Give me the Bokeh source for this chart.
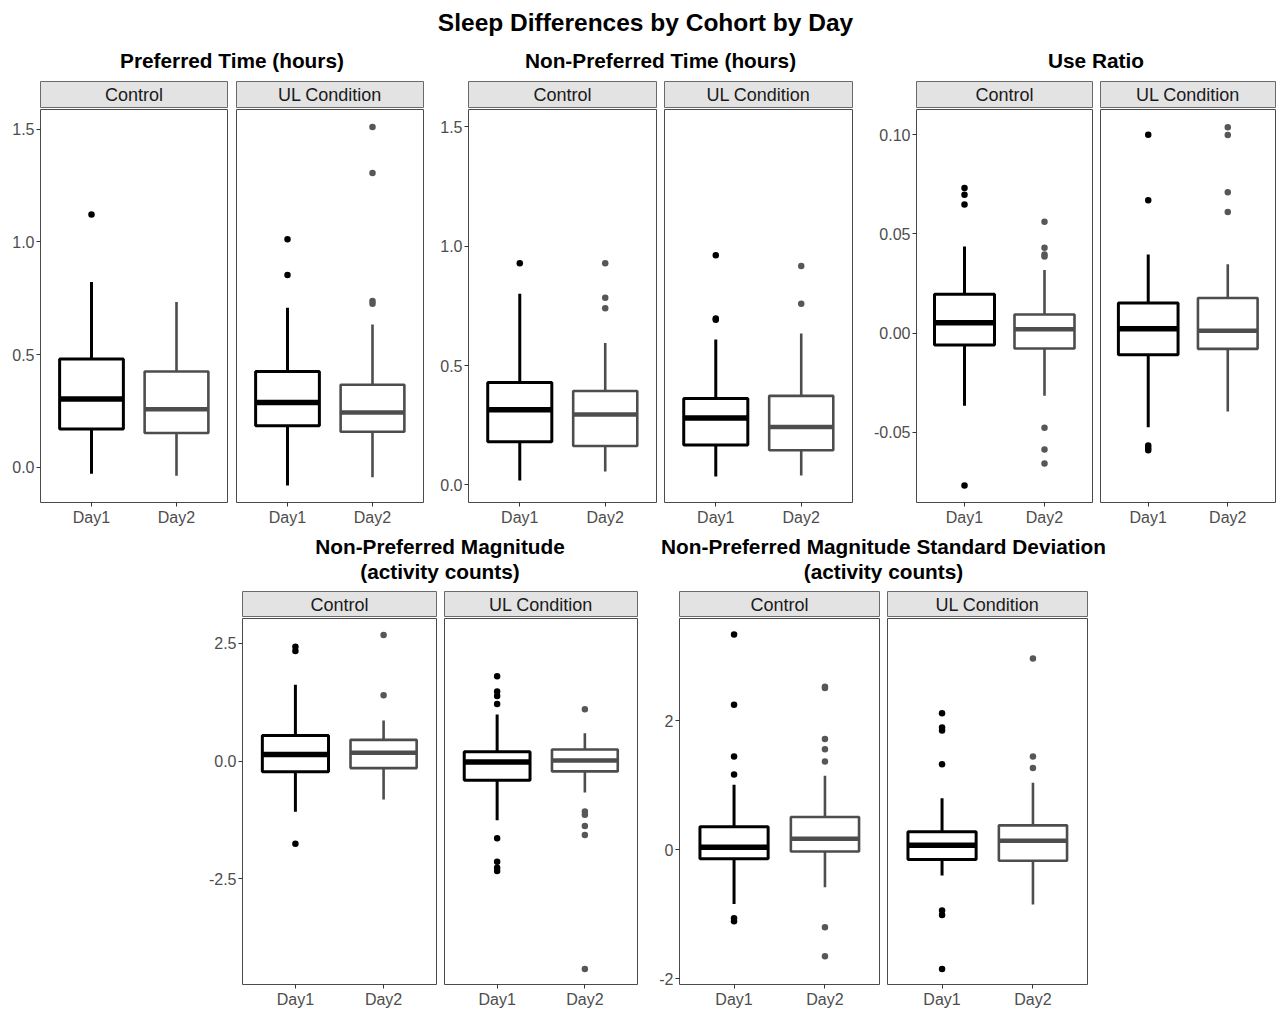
from bokeh.plotting import figure
from bokeh.layouts import row, column
from bokeh.models import Range1d, FactorRange, FixedTicker, PrintfTickFormatter, ColumnDataSource, Spacer
from bokeh.transform import dodge
from bokeh.core.properties import value
from bokeh.embed import file_html
from bokeh.resources import INLINE

# ---------------- data ----------------
days = ["Day1", "Day2"]
cohorts = ["Control", "UL Condition"]
main_title = "Sleep Differences by Cohort by Day"
panel_titles = [
    "Preferred Time (hours)",
    "Non-Preferred Time (hours)",
    "Use Ratio",
    "Non-Preferred Magnitude\n(activity counts)",
    "Non-Preferred Magnitude Standard Deviation\n(activity counts)",
]

# order within each list: Control-Day1, Control-Day2, UL-Day1, UL-Day2
pt_lo = [-0.029, -0.037, -0.081, -0.044]
pt_q1 = [0.170, 0.152, 0.184, 0.158]
pt_med = [0.303, 0.258, 0.288, 0.243]
pt_q3 = [0.480, 0.425, 0.425, 0.366]
pt_hi = [0.822, 0.733, 0.708, 0.634]
pt_out = [[1.121], [], [1.012, 0.853], [1.509, 1.305, 0.738, 0.726]]

npt_lo = [0.018, 0.056, 0.035, 0.039]
npt_q1 = [0.181, 0.163, 0.167, 0.145]
npt_med = [0.315, 0.295, 0.280, 0.242]
npt_q3 = [0.429, 0.393, 0.362, 0.373]
npt_hi = [0.801, 0.594, 0.609, 0.634]
npt_out = [[0.929], [0.929, 0.784, 0.740], [0.962, 0.692, 0.697], [0.917, 0.759]]

ur_lo = [-0.0365, -0.0315, -0.0474, -0.0394]
ur_q1 = [-0.0059, -0.0077, -0.0109, -0.0079]
ur_med = [0.0053, 0.0020, 0.0022, 0.0012]
ur_q3 = [0.0196, 0.0094, 0.0152, 0.0177]
ur_hi = [0.0437, 0.0318, 0.0397, 0.0347]
ur_out = [[0.0732, 0.0698, 0.0648, -0.0767],
          [0.0561, 0.0430, 0.0397, 0.0387, -0.0477, -0.0586, -0.0657],
          [0.1000, 0.0670, -0.0566, -0.0579, -0.0590],
          [0.1038, 0.0998, 0.0710, 0.0610]]

npm_lo = [-1.08, -0.82, -1.26, -0.67]
npm_q1 = [-0.23, -0.15, -0.41, -0.22]
npm_med = [0.14, 0.175, -0.02, 0.01]
npm_q3 = [0.545, 0.45, 0.20, 0.245]
npm_hi = [1.62, 0.86, 0.99, 0.59]
npm_out = [[2.43, 2.34, -1.76], [2.68, 1.40],
           [1.80, 1.48, 1.38, 1.21, -1.64, -2.14, -2.27, -2.34],
           [1.10, -1.07, -1.14, -1.38, -1.57, -4.42]]

sd_lo = [-0.84, -0.58, -0.40, -0.85]
sd_q1 = [-0.14, -0.025, -0.15, -0.17]
sd_med = [0.04, 0.17, 0.07, 0.14]
sd_q3 = [0.357, 0.51, 0.28, 0.38]
sd_hi = [1.01, 1.15, 0.80, 1.04]
sd_out = [[3.34, 2.25, 1.45, 1.17, -1.06, -1.11],
          [2.53, 2.51, 1.72, 1.56, 1.37, -1.20, -1.65],
          [2.12, 1.90, 1.85, 1.33, -0.94, -1.01, -1.85],
          [2.97, 1.45, 1.27]]

# axis settings
y_limits = [(-0.156, 1.587), (-0.074, 1.573), (-0.0853, 0.1127), (-4.75, 3.03), (-2.09, 3.59)]
y_ticks = [[0, 0.5, 1.0, 1.5], [0, 0.5, 1.0, 1.5], [-0.05, 0, 0.05, 0.10], [-2.5, 0, 2.5], [-2, 0, 2]]
y_formats = ["%.1f", "%.1f", "%.2f", "%.1f", "%d"]

# ---------------- styles ----------------
FONT = "Liberation Sans"
C_DAY = ["#000000", "#4D4D4D"]
C_OUT = ["#000000", "#575757"]
LW = [3.0, 2.6]
MW = [5.5, 4.5]
STRIP_FILL = "#E3E3E3"
BORDER = "#4A4A4A"
TICK_TXT = "#4D4D4D"


def blank_fig(width, height, left=0, right=0, top=0, bottom=0):
    p = figure(width=width, height=height, x_range=Range1d(0, 1), y_range=Range1d(0, 1),
               toolbar_location=None, output_backend="svg",
               x_axis_location=None, y_axis_location=None,
               min_border_left=left, min_border_right=right,
               min_border_top=top, min_border_bottom=bottom)
    p.grid.visible = False
    p.outline_line_color = None
    return p


def label_fig(width, height, text, size, xfrac=0.5, yfrac=0.5):
    p = blank_fig(width, height)
    p.text(x=[xfrac], y=[yfrac], text=[text], text_align="center", text_baseline="middle",
           text_font=value(FONT), text_font_size=f"{size}px", text_font_style="bold",
           text_color="#000000", text_line_height=1.12)
    return p


def strip_fig(width, height, text, left):
    p = blank_fig(width, height, left=left, right=1, top=1, bottom=0)
    p.background_fill_color = STRIP_FILL
    p.outline_line_color = "#6A6A6A"
    p.outline_line_width = 1
    p.text(x=[0.5], y=[0.5], text=[text], text_align="center", text_baseline="middle",
           text_font=value(FONT), text_font_size="18px", text_color="#1A1A1A")
    return p


def facet_fig(width, height, left, bottom, panel, stats, k, show_y):
    lo, q1, med, q3, hi, out = stats
    p = figure(width=width, height=height,
               x_range=FactorRange(*days, range_padding=0.1),
               y_range=Range1d(*y_limits[panel]),
               toolbar_location=None, output_backend="svg",
               y_axis_location="left" if show_y else None,
               min_border_left=left, min_border_right=1, min_border_top=1, min_border_bottom=bottom)
    p.grid.visible = False
    p.outline_line_color = BORDER
    p.outline_line_width = 1
    p.background_fill_color = "white"
    i = 2 * k
    src = ColumnDataSource(dict(day=days, lo=lo[i:i + 2], q1=q1[i:i + 2], med=med[i:i + 2],
                                q3=q3[i:i + 2], hi=hi[i:i + 2], color=C_DAY, lw=LW, mw=MW))
    p.segment(x0="day", y0="q3", x1="day", y1="hi", line_color="color", line_width="lw", source=src)
    p.segment(x0="day", y0="q1", x1="day", y1="lo", line_color="color", line_width="lw", source=src)
    p.vbar(x="day", width=0.75, top="q3", bottom="q1", fill_color="white",
           line_color="color", line_width="lw", source=src)
    p.segment(x0=dodge("day", -0.375, range=p.x_range), y0="med",
              x1=dodge("day", 0.375, range=p.x_range), y1="med",
              line_color="color", line_width="mw", line_cap="butt", source=src)
    ox, oy, oc = [], [], []
    for j in range(2):
        for v in out[i + j]:
            ox.append(days[j]); oy.append(v); oc.append(C_OUT[j])
    p.scatter(x=ox, y=oy, size=6.5, color=oc, line_width=0)

    for ax in p.xaxis + (p.yaxis if show_y else []):
        ax.axis_line_color = None
        ax.major_tick_in = 0
        ax.major_tick_out = 4
        ax.major_tick_line_color = "#333333"
        ax.minor_tick_line_color = None
        ax.major_label_standoff = 2
        ax.major_label_text_font = FONT
        ax.major_label_text_font_size = "16px"
        ax.major_label_text_color = TICK_TXT
    if show_y:
        p.yaxis.ticker = FixedTicker(ticks=y_ticks[panel])
        p.yaxis.formatter = PrintfTickFormatter(format=y_formats[panel])
    return p


def panel_block(panel, stats, lefts, frames, title_h, title_yfrac, strip_h, frame_h, bottom,
                title_extra=0):
    wC = lefts[0] + frames[0] + 1
    wU = lefts[1] + frames[1] + 1
    span_center = lefts[0] + (frames[0] + 1 + lefts[1] + frames[1]) / 2.0
    tw = wC + wU + title_extra
    title = label_fig(tw, title_h, panel_titles[panel], 20.8, xfrac=span_center / tw, yfrac=title_yfrac)
    strips = row(strip_fig(wC, strip_h, cohorts[0], lefts[0]),
                 strip_fig(wU, strip_h, cohorts[1], lefts[1]))
    fh = 1 + frame_h + bottom
    facets = row(facet_fig(wC, fh, lefts[0], bottom, panel, stats, 0, True),
                 facet_fig(wU, fh, lefts[1], bottom, panel, stats, 1, False))
    return column(title, strips, facets)


S_PT = (pt_lo, pt_q1, pt_med, pt_q3, pt_hi, pt_out)
S_NPT = (npt_lo, npt_q1, npt_med, npt_q3, npt_hi, npt_out)
S_UR = (ur_lo, ur_q1, ur_med, ur_q3, ur_hi, ur_out)
S_NPM = (npm_lo, npm_q1, npm_med, npm_q3, npm_hi, npm_out)
S_SD = (sd_lo, sd_q1, sd_med, sd_q3, sd_hi, sd_out)

r1 = dict(title_h=36, title_yfrac=0.556, strip_h=28, frame_h=393, bottom=28)
b1 = panel_block(0, S_PT, (40, 8), (187, 187), **r1)
b2 = panel_block(1, S_NPT, (44, 7), (188, 188), **r1)
b3 = panel_block(2, S_UR, (63, 7), (176, 175), **r1)

r2 = dict(title_h=60, title_yfrac=0.525, strip_h=27, frame_h=370, bottom=22)
b4 = panel_block(3, S_NPM, (50, 7), (194, 193), **r2)
b5 = panel_block(4, S_SD, (41, 7), (200, 200), title_extra=30, **r2)

top_title = label_fig(1276, 44, main_title, 24.5, xfrac=645 / 1276, yfrac=0.5)

layout = column(top_title,
                row(b1, b2, b3),
                row(Spacer(width=192, height=10), b4, b5))

open("out.html", "w").write(file_html(layout, INLINE))
